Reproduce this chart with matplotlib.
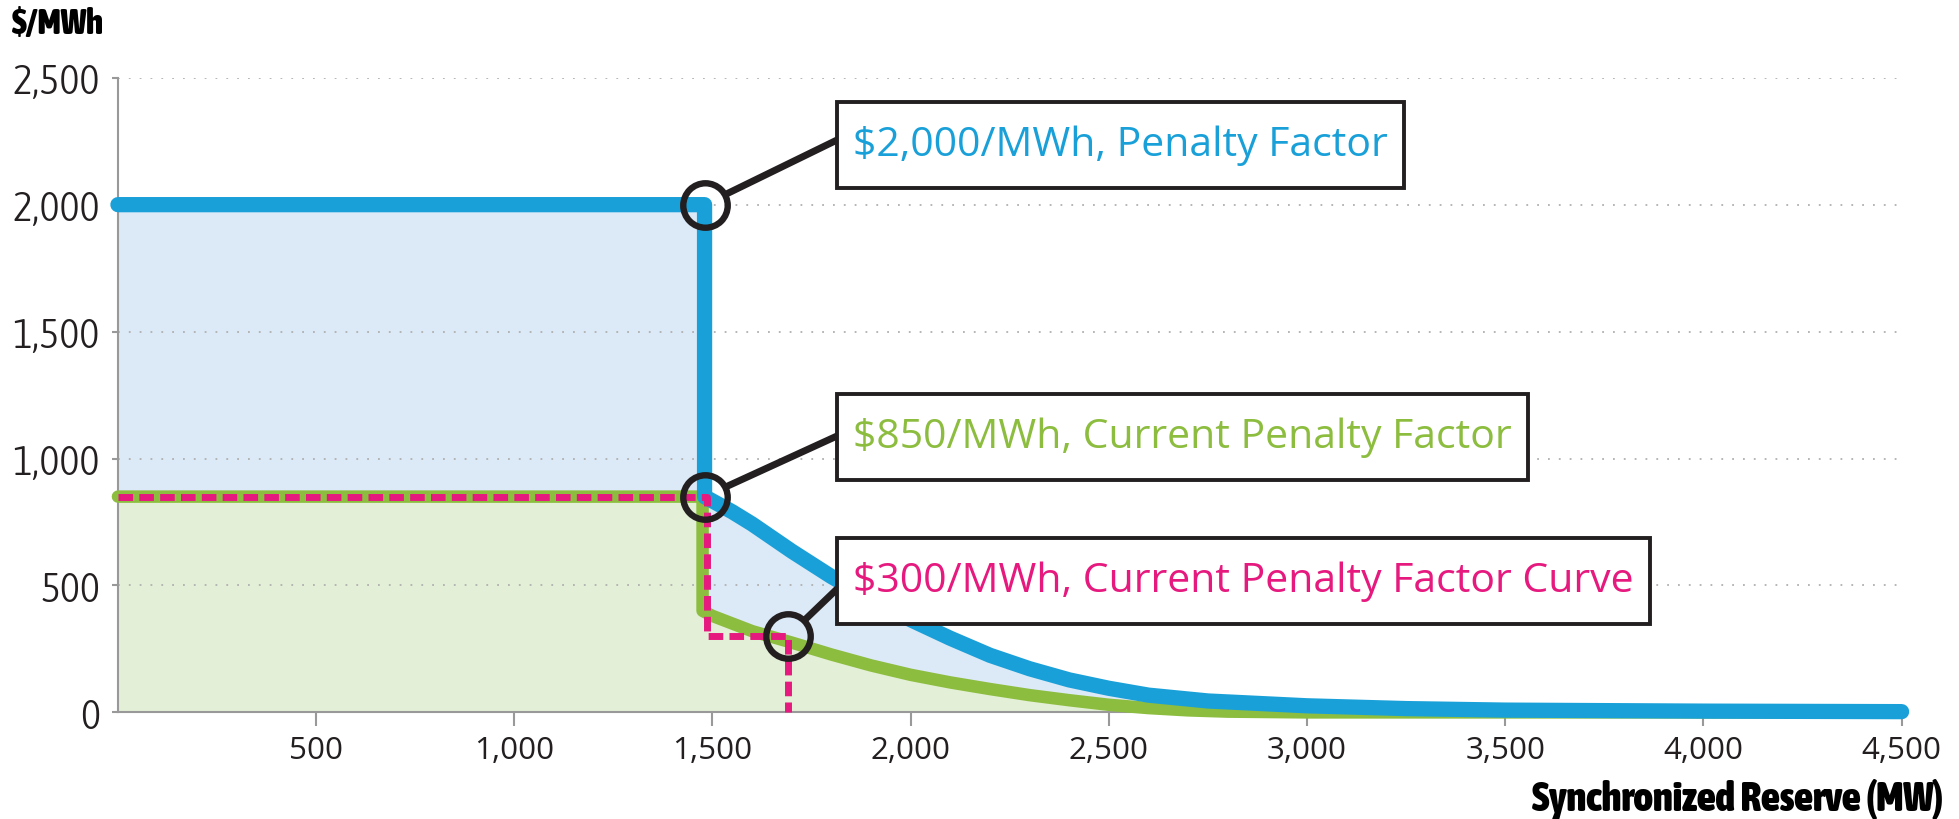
import os
import matplotlib
matplotlib.use("Agg")
import matplotlib.pyplot as plt
from matplotlib import font_manager
from matplotlib.patches import Rectangle

# data
blue_x = [0, 1480, 1480, 1550, 1600, 1700, 1800, 1900, 2000, 2100, 2200, 2300, 2400,
          2500, 2600, 2750, 3000, 3250, 3500, 4000, 4500]
blue_y = [2000, 2000, 850, 790, 742, 635, 535, 445, 365, 292, 225, 172, 128,
          95, 68, 45, 26, 15, 9, 5, 3]
green_x = [0, 1475, 1475, 1500, 1600, 1700, 1800, 1900, 2000, 2100, 2200, 2300, 2400,
           2500, 2600, 2700, 2800, 3000, 4500]
green_y = [850, 850, 400, 380, 320, 275, 228, 185, 148, 118, 92, 68, 48,
           30, 17, 8, 3, 0, 0]
pink_x = [0, 1487, 1487, 1690, 1690]
pink_y = [850, 850, 300, 300, 0]
circle_x = [1480, 1480, 1690]
circle_y = [2000, 850, 300]
labels = ["$2,000/MWh, Penalty Factor",
          "$850/MWh, Current Penalty Factor",
          "$300/MWh, Current Penalty Factor Curve"]
yticks = [0, 500, 1000, 1500, 2000, 2500]
xticks = [500, 1000, 1500, 2000, 2500, 3000, 3500, 4000, 4500]

BLUE = "#1aa0d8"
GREEN = "#8cbd3f"
PINK = "#e6197f"
DARK = "#231f20"
W, H = 1959, 820


def weight_of(f):
    w = f.weight
    if isinstance(w, str):
        w = font_manager.weight_dict.get(w, 400)
    return w


# look for an upright condensed face, else fall back to Roboto
def find_font(bold):
    best, best_score = None, None
    for f in font_manager.fontManager.ttflist:
        tag = (f.name + " " + os.path.basename(f.fname)).lower()
        if "condensed" not in tag and "narrow" not in tag:
            continue
        if f.style != "normal" or "italic" in tag or "oblique" in tag:
            continue
        w = weight_of(f)
        if bold and w < 600:
            continue
        score = -w if bold else abs(w - 300)
        if best_score is None or score < best_score:
            best, best_score = f, score
    if best is not None:
        return font_manager.FontProperties(fname=best.fname)
    fp = font_manager.FontProperties(family="Roboto")
    if bold:
        fp.set_weight("bold")
    return fp


cond = find_font(False)
cond_b = find_font(True)
names = {f.name for f in font_manager.fontManager.ttflist}
body = "Open Sans" if "Open Sans" in names else "DejaVu Sans"

fig = plt.figure(figsize=(W / 100, H / 100), dpi=100)
ax = fig.add_axes([0.0602, 0.130, 0.9105, 0.774])

# fills
ax.fill_between(blue_x, blue_y, 0, color="#dce9f6", lw=0, zorder=1)
ax.fill_between(green_x, green_y, 0, color="#e3efd6", lw=0, zorder=1.1)

# lines
ax.plot(green_x, green_y, color=GREEN, lw=9, solid_capstyle="round",
        solid_joinstyle="round", zorder=3, clip_on=False)
ax.plot(blue_x, blue_y, color=BLUE, lw=11, solid_capstyle="round",
        solid_joinstyle="round", zorder=4, clip_on=False)
ax.plot(pink_x, pink_y, color=PINK, lw=5, ls=(0, (2.1, 0.9)), zorder=5, clip_on=False)

# circles
ax.plot(circle_x, circle_y, "o", ms=32, mfc="none", mec=DARK, mew=4.6, zorder=6, clip_on=False)

ax.set_xlim(0, 4500)
ax.set_ylim(0, 2500)
ax.set_yticks(yticks)
ax.set_yticklabels([f"{v:,}" for v in yticks], fontproperties=cond, color=DARK)
ax.set_xticks(xticks)
ax.set_xticklabels([f"{v:,}" for v in xticks], family=body, fontsize=24, color=DARK)
ax.tick_params(axis="x", length=10, width=1.5, color="#999999", pad=6)
ax.tick_params(axis="y", length=4, width=1.5, color="#999999", pad=9)

ax.grid(axis="y", ls=(0, (1, 5)), lw=1.3, color="#b0b0b0", zorder=2)
ax.grid(axis="x", visible=False)
for s in ["top", "right"]:
    ax.spines[s].set_visible(False)
for s in ["left", "bottom"]:
    ax.spines[s].set_color("#999999")
    ax.spines[s].set_linewidth(1.5)

ylab = fig.text(12 / W, 1 - 24 / H, "$/MWh", ha="left", va="center",
                fontproperties=cond_b, color="black")
xlab = fig.text(1943 / W, 1 - 800 / H, "Synchronized Reserve (MW)", ha="right", va="center",
                fontproperties=cond_b, color="black")

# callout texts (figure pixel layout)
box_left = 837
box_mid = [146, 438, 582]
leader_end = [141, 437, 590]
colors = [BLUE, GREEN, PINK]
texts = []
for i in range(3):
    t = fig.text((box_left + 16) / W, 1 - box_mid[i] / H, labels[i], ha="left", va="center",
                 family=body, color=colors[i], zorder=11)
    texts.append(t)
    ax.annotate("", xy=(circle_x[i], circle_y[i]), xytext=(box_left, H - leader_end[i]),
                textcoords="figure pixels",
                arrowprops=dict(arrowstyle="-", color=DARK, lw=5, shrinkA=0, shrinkB=17),
                zorder=6)

# scale texts so their widths match the reference
fig.canvas.draw()
r = fig.canvas.get_renderer()


def fit(items, sample, target, start, cap=None):
    for t in items:
        t.set_fontsize(start)
    w = sample.get_window_extent(r).width
    size = start * target / w
    if cap:
        size = min(size, cap)
    for t in items:
        t.set_fontsize(size)


fit(ax.get_yticklabels(), ax.get_yticklabels()[-1], 87, 30, cap=34)
fit(ax.get_xticklabels(), ax.get_xticklabels()[1], 80, 24)
ylab.set_fontsize(25)
fit([xlab], xlab, 410, 24, cap=30)
fit(texts, texts[0], 536, 28)

fig.canvas.draw()
for t in texts:
    bb = t.get_window_extent(r)
    box = Rectangle((box_left / W, (bb.y0 + bb.height / 2 - 43) / H),
                    (bb.width + 32) / W, 86 / H, transform=fig.transFigure,
                    fc="white", ec=DARK, lw=2.8, zorder=10)
    fig.add_artist(box)

fig.savefig("out.png", dpi=100)
